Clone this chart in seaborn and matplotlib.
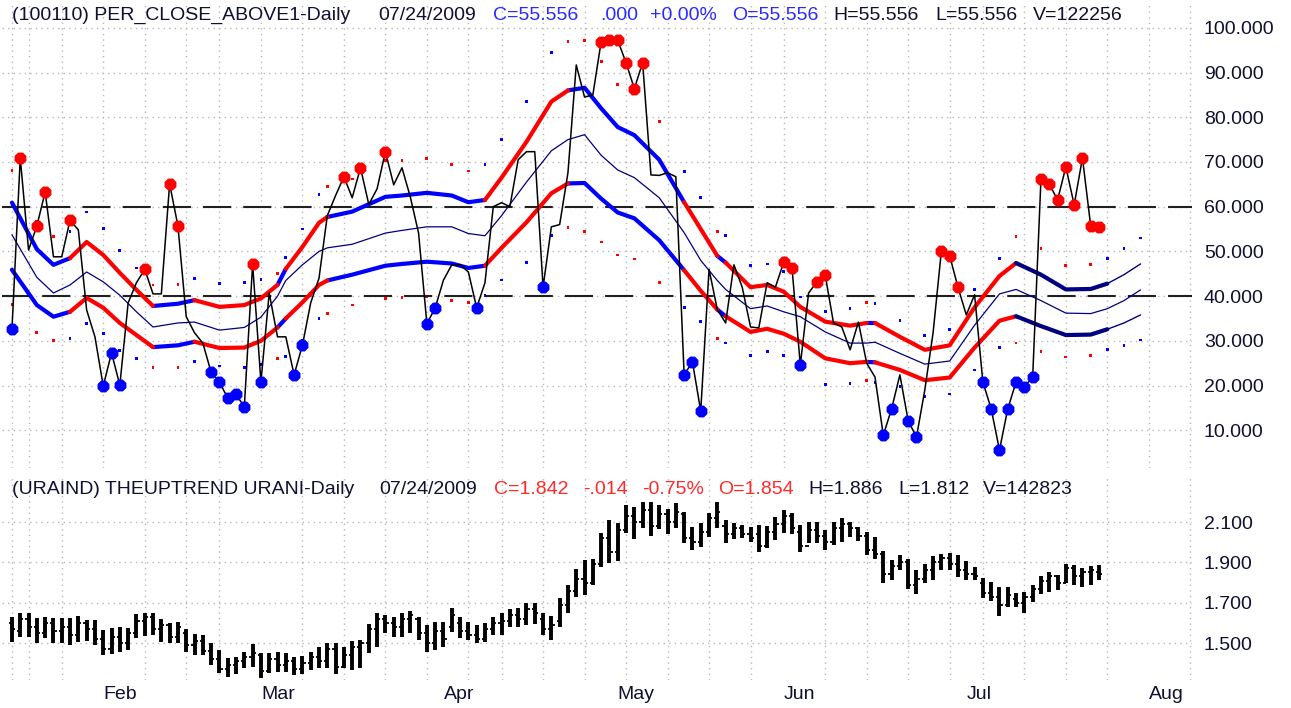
import numpy as np
import pandas as pd
import matplotlib
matplotlib.use('Agg')
import matplotlib.pyplot as plt
import seaborn as sns
from matplotlib.ticker import FormatStrFormatter


# trading calendar (NYSE, 2009)
start_day = '2009-01-15'
end_day = '2009-08-10'
holidays = ['2009-01-19', '2009-02-16', '2009-04-10', '2009-05-25', '2009-07-03']

# PER_CLOSE_ABOVE1 daily values, one per trading day from Jan 15 to Jul 24
close = [
    32.6, 70.9, 50.3, 55.7, 63.3, 48.8, 48.8, 57.0, 54.8, 36.9,
    30.9, 19.9, 27.3, 20.1, 38.5, 43.0, 46.0, 40.5, 40.5, 65.1,
    55.7, 35.4, 31.8, 29.5, 23.0, 20.8, 17.2, 18.1, 15.2, 47.2,
    20.8, 40.7, 30.9, 30.9, 22.4, 29.0, 38.5, 44.0, 58.0, 62.5,
    66.7, 62.0, 68.7, 60.5, 64.0, 72.3, 64.9, 68.7, 62.2, 54.1,
    33.8, 37.4, 43.6, 47.0, 47.0, 45.4, 37.4, 43.0, 60.0, 60.9,
    60.0, 70.5, 72.3, 72.3, 42.0, 55.5, 56.0, 67.6, 91.7, 84.5,
    85.0, 96.9, 97.2, 97.2, 92.2, 86.4, 92.2, 67.1, 67.0, 67.6,
    66.7, 22.4, 25.3, 14.3, 46.0, 37.0, 34.0, 47.0, 42.0, 33.1,
    32.9, 43.0, 42.0, 47.6, 46.3, 24.6, 40.7, 43.2, 44.7, 34.0,
    33.1, 28.0, 34.2, 25.0, 21.9, 8.9, 14.8, 22.4, 12.1, 8.5,
    19.0, 31.8, 50.1, 49.0, 42.0, 35.8, 40.3, 20.8, 14.8, 5.6,
    14.8, 20.8, 19.7, 21.9, 66.2, 65.1, 61.5, 68.9, 60.4, 70.9,
    55.6, 55.556,
]

# days flagged with a big dot
red_days = [1, 3, 4, 7, 16, 19, 20, 29, 40, 42, 45, 71, 72, 73, 74, 75, 76,
            93, 94, 97, 98, 112, 113, 114, 124, 125, 126, 127, 128, 129, 130, 131]
blue_days = [0, 11, 12, 13, 24, 25, 26, 27, 28, 30, 34, 35, 50, 51, 56, 64,
             81, 82, 83, 95, 105, 106, 108, 109, 117, 118, 119, 120, 121, 122, 123]

# band readings (day index -> value), last five days are the projection
band_days = [0, 3, 5, 7, 9, 11, 13, 15, 17, 20, 22, 25, 28, 30, 32, 33, 35, 37,
             38, 41, 45, 47, 50, 53, 55, 57, 59, 62, 65, 67, 69, 71, 73, 75, 78,
             81, 83, 85, 86, 89, 91, 93, 95, 98, 101, 103, 104, 107, 110, 113,
             116, 119, 121, 124, 127, 130, 132, 134, 136]
band_upper = [60.9, 50.5, 47.0, 48.5, 52.1, 49.2, 45.2, 41.4, 37.8, 38.3, 39.1,
              37.6, 38.0, 39.5, 42.5, 46.1, 51.0, 56.4, 57.7, 58.9, 62.2, 62.5,
              63.1, 62.5, 61.0, 61.5, 66.5, 74.5, 83.5, 86.0, 86.6, 82.0, 77.8,
              76.0, 70.5, 61.0, 55.0, 49.0, 47.5, 42.0, 42.5, 41.0, 37.6, 34.3,
              33.4, 34.0, 34.0, 30.9, 28.0, 29.0, 37.5, 44.5, 47.4, 44.8, 41.5,
              41.6, 42.8, 44.8, 47.2]
band_mid = [53.7, 44.2, 40.7, 42.5, 45.4, 43.2, 40.2, 36.5, 33.1, 34.0, 34.2,
            32.4, 33.0, 35.3, 40.0, 43.5, 47.0, 50.0, 50.8, 51.6, 54.1, 54.7,
            55.5, 55.5, 54.0, 53.5, 58.0, 65.5, 72.5, 75.0, 76.1, 71.5, 68.2,
            66.5, 62.0, 54.2, 48.0, 43.5, 41.5, 37.2, 37.8, 36.5, 35.4, 32.0,
            29.5, 29.5, 29.7, 27.2, 24.8, 25.5, 33.5, 40.5, 41.5, 39.0, 36.2,
            36.1, 37.2, 39.0, 41.4]
band_lower = [45.9, 38.0, 35.4, 36.5, 39.6, 37.4, 34.0, 31.3, 28.6, 29.0, 29.8,
              28.4, 28.5, 30.0, 33.0, 35.0, 38.6, 42.5, 43.5, 44.8, 46.8, 47.2,
              47.7, 47.3, 46.3, 46.8, 50.8, 56.5, 63.0, 65.2, 65.3, 61.8, 58.7,
              57.4, 52.5, 45.8, 41.2, 37.0, 35.5, 32.0, 32.7, 31.6, 29.8, 26.1,
              25.0, 25.3, 25.2, 23.5, 21.2, 21.8, 28.5, 34.5, 35.5, 33.3, 31.3,
              31.4, 32.6, 34.0, 35.8]

# colour state of the bands between these days
trend_breaks = [0, 7, 17, 22, 32, 33, 38, 57, 67, 81, 85, 86, 103, 104, 121, 132, 136]
trend_kinds = ['down', 'up', 'down', 'up', 'down', 'up', 'down', 'up', 'down',
               'up', 'down', 'up', 'down', 'up', 'hold', 'proj']

# URAIND daily bars
bar_high = [
    1.631, 1.650, 1.647, 1.622, 1.631, 1.622, 1.622, 1.622, 1.634, 1.614,
    1.614, 1.564, 1.573, 1.581, 1.573, 1.642, 1.647, 1.647, 1.617, 1.601,
    1.606, 1.568, 1.545, 1.540, 1.498, 1.465, 1.424, 1.432, 1.457, 1.495,
    1.452, 1.452, 1.457, 1.452, 1.432, 1.436, 1.457, 1.482, 1.502, 1.498,
    1.482, 1.512, 1.515, 1.594, 1.647, 1.639, 1.631, 1.647, 1.660, 1.631,
    1.590, 1.606, 1.606, 1.672, 1.631, 1.606, 1.589, 1.598, 1.631, 1.647,
    1.667, 1.672, 1.697, 1.697, 1.650, 1.634, 1.721, 1.788, 1.865, 1.912,
    1.915, 2.047, 2.110, 2.097, 2.184, 2.176, 2.201, 2.197, 2.184, 2.163,
    2.193, 2.151, 2.077, 2.093, 2.143, 2.201, 2.110, 2.093, 2.085, 2.077,
    2.085, 2.080, 2.126, 2.159, 2.143, 2.085, 2.102, 2.102, 2.060, 2.102,
    2.118, 2.102, 2.077, 2.052, 2.027, 1.958, 1.912, 1.936, 1.915, 1.862,
    1.892, 1.931, 1.941, 1.948, 1.936, 1.908, 1.879, 1.821, 1.804, 1.779,
    1.776, 1.750, 1.755, 1.788, 1.832, 1.854, 1.837, 1.892, 1.887, 1.870,
    1.882, 1.886,
]
bar_low = [
    1.507, 1.531, 1.531, 1.498, 1.523, 1.498, 1.498, 1.490, 1.507, 1.512,
    1.490, 1.440, 1.445, 1.457, 1.465, 1.523, 1.535, 1.540, 1.507, 1.498,
    1.498, 1.457, 1.440, 1.440, 1.391, 1.350, 1.330, 1.346, 1.374, 1.383,
    1.325, 1.350, 1.358, 1.358, 1.341, 1.346, 1.366, 1.374, 1.374, 1.346,
    1.374, 1.369, 1.374, 1.452, 1.482, 1.548, 1.531, 1.531, 1.551, 1.515,
    1.457, 1.465, 1.482, 1.556, 1.523, 1.515, 1.498, 1.507, 1.540, 1.540,
    1.581, 1.578, 1.589, 1.594, 1.540, 1.515, 1.581, 1.650, 1.726, 1.738,
    1.788, 1.875, 1.895, 1.908, 2.047, 2.014, 2.069, 2.031, 2.064, 2.040,
    2.069, 1.994, 1.961, 1.978, 2.027, 2.069, 1.994, 2.014, 2.019, 2.002,
    1.953, 1.969, 2.011, 2.044, 2.040, 1.953, 1.994, 1.994, 1.961, 1.986,
    2.002, 2.027, 2.007, 1.936, 1.915, 1.796, 1.812, 1.862, 1.766, 1.743,
    1.796, 1.812, 1.862, 1.862, 1.829, 1.812, 1.812, 1.721, 1.710, 1.634,
    1.680, 1.677, 1.650, 1.705, 1.743, 1.755, 1.763, 1.796, 1.788, 1.779,
    1.788, 1.812,
]
bar_open = [
    1.60, 1.56, 1.62, 1.58, 1.55, 1.60, 1.56, 1.58, 1.54, 1.60,
    1.57, 1.52, 1.47, 1.53, 1.50, 1.55, 1.61, 1.63, 1.57, 1.59,
    1.53, 1.55, 1.49, 1.51, 1.46, 1.42, 1.37, 1.39, 1.41, 1.43,
    1.44, 1.36, 1.42, 1.39, 1.41, 1.37, 1.40, 1.43, 1.41, 1.47,
    1.38, 1.44, 1.48, 1.50, 1.57, 1.62, 1.60, 1.58, 1.62, 1.62,
    1.55, 1.50, 1.56, 1.58, 1.60, 1.56, 1.54, 1.52, 1.57, 1.60,
    1.61, 1.64, 1.62, 1.67, 1.62, 1.57, 1.61, 1.69, 1.76, 1.82,
    1.80, 1.89, 2.02, 1.95, 2.06, 2.13, 2.10, 2.16, 2.08, 2.14,
    2.10, 2.14, 2.02, 2.00, 2.05, 2.12, 2.08, 2.04, 2.07, 2.04,
    2.04, 1.98, 2.05, 2.09, 2.13, 2.05, 1.98, 2.06, 2.03, 2.00,
    2.07, 2.09, 2.07, 2.03, 1.96, 1.94, 1.84, 1.88, 1.90, 1.79,
    1.82, 1.86, 1.90, 1.92, 1.89, 1.86, 1.84, 1.80, 1.75, 1.73,
    1.69, 1.72, 1.70, 1.73, 1.77, 1.81, 1.83, 1.80, 1.87, 1.83,
    1.85, 1.854,
]
bar_close = [
    1.57, 1.62, 1.58, 1.55, 1.60, 1.56, 1.58, 1.54, 1.60, 1.57,
    1.52, 1.47, 1.53, 1.50, 1.55, 1.61, 1.63, 1.57, 1.59, 1.53,
    1.58, 1.49, 1.51, 1.46, 1.42, 1.37, 1.39, 1.41, 1.43, 1.45,
    1.36, 1.42, 1.39, 1.41, 1.37, 1.40, 1.43, 1.41, 1.47, 1.38,
    1.44, 1.48, 1.50, 1.57, 1.62, 1.60, 1.58, 1.62, 1.64, 1.55,
    1.50, 1.56, 1.52, 1.64, 1.56, 1.54, 1.52, 1.57, 1.60, 1.61,
    1.64, 1.62, 1.67, 1.65, 1.57, 1.59, 1.69, 1.76, 1.82, 1.80,
    1.89, 2.02, 1.95, 2.06, 2.13, 2.10, 2.16, 2.08, 2.14, 2.10,
    2.15, 2.02, 2.00, 2.05, 2.12, 2.15, 2.04, 2.07, 2.04, 2.02,
    1.98, 2.05, 2.09, 2.13, 2.07, 1.98, 2.06, 2.03, 2.00, 2.07,
    2.09, 2.07, 2.03, 1.96, 1.94, 1.84, 1.88, 1.90, 1.79, 1.82,
    1.86, 1.90, 1.92, 1.89, 1.86, 1.84, 1.83, 1.75, 1.73, 1.69,
    1.74, 1.70, 1.73, 1.77, 1.81, 1.83, 1.80, 1.87, 1.83, 1.85,
    1.86, 1.842,
]

top_ticks = [10, 20, 30, 40, 50, 60, 70, 80, 90, 100]
bottom_ticks = [1.5, 1.7, 1.9, 2.1]
signal_levels = [40, 60]

DARK = '#101030'
BLUE = '#2a2aff'
RED = '#ff2a2a'

top_header = [
    ('(100110) PER_CLOSE_ABOVE1-Daily', 12, DARK), ('07/24/2009', 378, DARK),
    ('C=55.556', 493, BLUE), ('.000', 600, BLUE), ('+0.00%', 650, BLUE),
    ('O=55.556', 732, BLUE), ('H=55.556', 833, DARK), ('L=55.556', 935, DARK),
    ('V=122256', 1033, DARK),
]
bottom_header = [
    ('(URAIND) THEUPTREND URANI-Daily', 12, DARK), ('07/24/2009', 379, DARK),
    ('C=1.842', 494, RED), ('-.014', 583, RED), ('-0.75%', 642, RED),
    ('O=1.854', 718, RED), ('H=1.886', 808, DARK), ('L=1.812', 898, DARK),
    ('V=142823', 983, DARK),
]

W, H = 1291, 708
GRID = dict(color='#b8b8b8', linestyle=(0, (1, 3)), linewidth=1.0)
trend_colors = {'down': '#0000ff', 'up': '#ff0000', 'hold': '#000080', 'proj': '#000080'}
trend_widths = {'down': 3.0, 'up': 3.0, 'hold': 3.0, 'proj': 1.0}
dot_colors = {'down': '#ff0000', 'up': '#0000ff', 'hold': '#ff0000', 'proj': '#0000ff'}


def trading_days():
    """Business days of the chart window without exchange holidays."""
    days = pd.bdate_range(start_day, end_day)
    return days[~days.isin(pd.to_datetime(holidays))]


def px_axes(fig, left, top, right, bottom):
    """Add an axes given in pixel edges."""
    return fig.add_axes([left / W, 1 - bottom / H, (right - left) / W, (bottom - top) / H])


def kind_of(day):
    for a, b, k in zip(trend_breaks[:-1], trend_breaks[1:], trend_kinds):
        if a <= day < b:
            return k
    return trend_kinds[-1]


def band_frame():
    """Long table of band knots, one unit per coloured stretch."""
    rows = []
    for s, (a, b) in enumerate(zip(trend_breaks[:-1], trend_breaks[1:])):
        for d, up, lo in zip(band_days, band_upper, band_lower):
            if a <= d <= b:
                rows.append({'seg': s, 'kind': trend_kinds[s], 'day': d, 'upper': up, 'lower': lo})
    return pd.DataFrame(rows)


def style_axis(ax, days, yticks, fmt, xlim, ylim):
    ax.set_xlim(*xlim)
    ax.set_ylim(*ylim)
    week_idx = [i for i in range(1, len(days)) if days[i].weekday() < days[i - 1].weekday()]
    ax.set_xticks([0] + week_idx, minor=True)
    ax.set_yticks(yticks)
    ax.yaxis.set_major_formatter(FormatStrFormatter(fmt))
    ax.yaxis.tick_right()
    ax.tick_params(which='both', length=0)
    ax.tick_params(axis='y', pad=8.5, labelsize=14, labelcolor=DARK)
    ax.grid(False)
    ax.grid(axis='y', which='major', **GRID)
    ax.grid(axis='x', which='minor', **GRID)
    for spine in ax.spines.values():
        spine.set_visible(False)
    ax.set_xlabel('')
    ax.set_ylabel('')


def header(fig, items, y):
    for text, x, color in items:
        fig.text(x / W, 1 - y / H, text, color=color, fontsize=14, ha='left', va='center')


def draw_top(ax, days):
    n = len(close)
    bands = band_frame()
    for col in ['upper', 'lower']:
        sns.lineplot(data=bands, x='day', y=col, hue='kind', size='kind', units='seg',
                     estimator=None, sort=False, palette=trend_colors, sizes=trend_widths,
                     legend=False, ax=ax, solid_capstyle='round', zorder=3)
    sns.lineplot(x=band_days, y=band_mid, color='#000080', linewidth=0.9, ax=ax, zorder=3)

    # outer dotted envelope, twice the band width
    mid = np.array(band_mid)
    outer = pd.DataFrame({
        'day': band_days,
        'hi': mid + 2 * (np.array(band_upper) - mid),
        'lo': mid - 2 * (mid - np.array(band_lower)),
        'kind': [kind_of(d) for d in band_days],
    })
    for col in ['hi', 'lo']:
        sns.scatterplot(data=outer, x='day', y=col, hue='kind', palette=dot_colors,
                        s=4, marker='s', linewidth=0, legend=False, ax=ax, zorder=2)

    for level in signal_levels:
        ax.axhline(level, color='#202020', linewidth=1.5, linestyle=(0, (13.5, 5.8)), zorder=2)

    sns.lineplot(x=np.arange(n), y=close, color='black', linewidth=1.1, ax=ax, zorder=4)
    sns.scatterplot(x=red_days, y=[close[i] for i in red_days], color='#ff0000',
                    marker='8', s=85, linewidth=0, ax=ax, zorder=5)
    sns.scatterplot(x=blue_days, y=[close[i] for i in blue_days], color='#0000ff',
                    marker='8', s=85, linewidth=0, ax=ax, zorder=5)
    ax.set_xticks([])


def draw_bottom(ax, days):
    idx = np.arange(len(bar_high))
    ax.vlines(idx, bar_low, bar_high, color='black', linewidth=2.8, zorder=3)
    ax.hlines(bar_open, idx - 0.38, idx, color='black', linewidth=1.3, zorder=3)
    ax.hlines(bar_close, idx, idx + 0.38, color='black', linewidth=1.3, zorder=3)
    month_idx = [i for i in range(1, len(days)) if days[i].month != days[i - 1].month]
    ax.set_xticks(month_idx)
    ax.set_xticklabels([days[i].strftime('%b') for i in month_idx], ha='left',
                       fontsize=14, color=DARK)
    ax.tick_params(axis='x', pad=4)


sns.set_style('white')
plt.rcParams['font.family'] = ['Liberation Sans', 'DejaVu Sans']

days = trading_days()
fig = plt.figure(figsize=(W / 100, H / 100), dpi=100)

ax_top = px_axes(fig, 2, 5, 1192, 468)
draw_top(ax_top, days)
style_axis(ax_top, days, top_ticks, '%.3f', (-1.2, 142.2), (1.57, 105.1))
ax_top.set_xticks([])

ax_bot = px_axes(fig, 2, 475, 1192, 680)
draw_bottom(ax_bot, days)
style_axis(ax_bot, days, bottom_ticks, '%.3f', (-1.2, 142.2), (1.317, 2.333))

header(fig, top_header, 15)
header(fig, bottom_header, 490)

fig.savefig('out.png', dpi=100, facecolor='white')
